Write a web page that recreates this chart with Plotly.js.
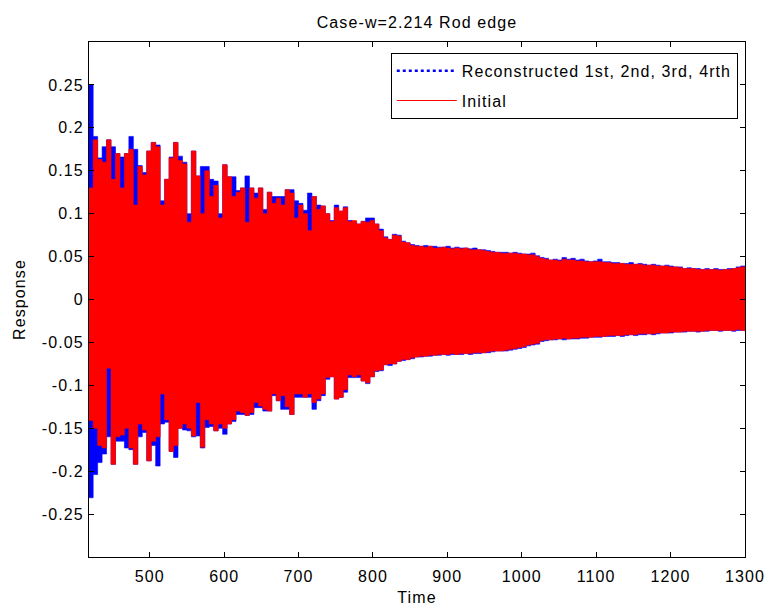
<!DOCTYPE html>
<html><head><meta charset="utf-8">
<script src="https://cdn.plot.ly/plotly-3.0.1.min.js"></script>
<style>html,body{margin:0;padding:0;background:#fff}#chart{width:767px;height:609px}
svg text{letter-spacing:1.1px}</style>
</head><body><div id="chart"></div>
<script>
// Sampling grid of the envelope readings (time units)
const timeStart = 418;
const timeStep = 6;

// "Initial" signal: upper peaks and lower troughs
const initialUpper = [
0.13,0.186,0.163,0.16,0.186,0.14,0.17,0.13,0.17,0.175,
0.11,0.155,0.145,0.173,0.183,0.178,0.11,0.14,0.165,0.183,
0.162,0.158,0.09,0.173,0.144,0.1,0.15,0.12,0.133,0.095,
0.157,0.143,0.12,0.125,0.13,0.09,0.13,0.118,0.13,0.1,
0.125,0.112,0.118,0.11,0.128,0.124,0.095,0.11,0.1,0.08,
0.12,
0.105,0.109,0.1,0.091,0.107,0.103,0.107,0.091,0.092,
0.088,0.091,0.09,0.092,0.088,0.08,0.072,0.07,0.075,0.074,
0.067,0.066,0.063,0.062,0.062,0.061,0.062,0.06,0.06,0.061,
0.06,0.059,0.06,0.059,0.06,0.058,0.058,0.058,0.057,0.056,
0.055,0.055,0.054,0.054,0.054,0.054,0.053,0.053,0.052,0.052,
0.05,0.048,0.047,0.046,0.046,0.045,0.047,0.046,0.046,0.045,
0.045,0.044,0.044,0.044,0.044,0.043,0.043,0.042,0.042,0.042,
0.041,0.041,0.041,0.041,0.04,0.04,0.04,0.039,0.039,0.039,
0.038,0.038,0.037,0.036,0.036,0.036,0.035,0.035,0.035,0.035,
0.035,0.034,0.035,0.035,0.036,0.037,0.038,0.038
];
const initialLower = [
-0.141,-0.15,-0.17,-0.173,-0.08,-0.192,-0.16,-0.158,-0.15,-0.173,
-0.192,-0.145,-0.152,-0.188,-0.165,-0.16,-0.11,-0.14,-0.177,-0.17,
-0.15,-0.145,-0.15,-0.159,-0.12,-0.172,-0.14,-0.145,-0.153,-0.145,
-0.15,-0.145,-0.14,-0.13,-0.132,-0.135,-0.132,-0.12,-0.124,-0.128,
-0.13,-0.11,-0.118,-0.112,-0.125,-0.134,-0.11,-0.11,-0.114,-0.11,
-0.12,
-0.116,-0.11,-0.091,-0.09,-0.116,-0.114,-0.105,-0.088,-0.09,
-0.088,-0.095,-0.097,-0.09,-0.083,-0.082,-0.076,-0.075,-0.075,-0.072,
-0.07,-0.07,-0.068,-0.067,-0.066,-0.066,-0.065,-0.065,-0.064,-0.064,
-0.064,-0.063,-0.064,-0.063,-0.063,-0.063,-0.062,-0.062,-0.062,-0.061,
-0.06,-0.06,-0.06,-0.059,-0.058,-0.057,-0.056,-0.055,-0.053,-0.052,
-0.051,-0.048,-0.047,-0.047,-0.046,-0.046,-0.045,-0.046,-0.045,-0.045,
-0.044,-0.044,-0.044,-0.043,-0.043,-0.043,-0.042,-0.042,-0.042,-0.042,
-0.041,-0.041,-0.041,-0.04,-0.04,-0.04,-0.04,-0.039,-0.039,-0.039,
-0.038,-0.038,-0.038,-0.037,-0.037,-0.037,-0.037,-0.037,-0.036,-0.036,
-0.036,-0.036,-0.036,-0.036,-0.036,-0.035,-0.036,-0.036
];

// "Reconstructed 1st, 2nd, 3rd, 4rth" signal: upper peaks and lower troughs
const reconUpper = [
0.25,0.19,0.165,0.178,0.186,0.178,0.17,0.166,0.17,0.19,
0.175,0.156,0.148,0.173,0.183,0.18,0.115,0.14,0.166,0.183,
0.167,0.16,0.10,0.173,0.144,0.155,0.155,0.14,0.138,0.10,
0.157,0.143,0.143,0.127,0.13,0.144,0.13,0.124,0.13,0.105,
0.125,0.12,0.12,0.12,0.128,0.128,0.115,0.112,0.104,0.124,
0.12,
0.11,0.109,0.1,0.092,0.11,0.103,0.108,0.092,0.09,
0.088,0.091,0.095,0.095,0.088,0.082,0.073,0.07,0.076,0.075,
0.068,0.066,0.064,0.063,0.062,0.063,0.062,0.062,0.061,0.061,
0.062,0.06,0.061,0.06,0.06,0.059,0.06,0.058,0.058,0.057,
0.056,0.055,0.055,0.055,0.054,0.055,0.054,0.053,0.053,0.054,
0.051,0.049,0.048,0.046,0.047,0.046,0.049,0.047,0.048,0.046,
0.047,0.045,0.044,0.045,0.047,0.044,0.044,0.043,0.043,0.042,
0.042,0.043,0.041,0.042,0.041,0.04,0.041,0.04,0.039,0.04,
0.039,0.038,0.038,0.036,0.037,0.036,0.036,0.035,0.036,0.035,
0.036,0.035,0.035,0.036,0.036,0.038,0.039,0.039
];
const reconLower = [
-0.231,-0.204,-0.19,-0.18,-0.16,-0.192,-0.165,-0.165,-0.173,-0.175,
-0.192,-0.16,-0.155,-0.188,-0.17,-0.194,-0.145,-0.143,-0.177,-0.184,
-0.15,-0.152,-0.153,-0.16,-0.159,-0.173,-0.149,-0.148,-0.153,-0.15,
-0.157,-0.145,-0.142,-0.134,-0.134,-0.135,-0.134,-0.126,-0.126,-0.13,
-0.13,-0.112,-0.118,-0.128,-0.128,-0.134,-0.114,-0.114,-0.114,-0.114,
-0.128,
-0.118,-0.112,-0.093,-0.09,-0.116,-0.114,-0.108,-0.091,-0.091,
-0.091,-0.095,-0.098,-0.09,-0.084,-0.083,-0.076,-0.077,-0.075,-0.072,
-0.071,-0.07,-0.069,-0.067,-0.067,-0.066,-0.066,-0.065,-0.065,-0.064,
-0.065,-0.064,-0.064,-0.064,-0.063,-0.064,-0.063,-0.063,-0.062,-0.062,
-0.061,-0.06,-0.06,-0.06,-0.059,-0.058,-0.057,-0.056,-0.054,-0.053,
-0.052,-0.049,-0.048,-0.047,-0.047,-0.046,-0.047,-0.046,-0.046,-0.046,
-0.045,-0.045,-0.044,-0.044,-0.044,-0.043,-0.043,-0.043,-0.042,-0.043,
-0.042,-0.041,-0.042,-0.041,-0.041,-0.04,-0.041,-0.04,-0.039,-0.039,
-0.039,-0.038,-0.038,-0.038,-0.037,-0.037,-0.038,-0.037,-0.037,-0.036,
-0.036,-0.037,-0.036,-0.036,-0.037,-0.036,-0.036,-0.037
];

const seriesNames = ['Reconstructed 1st, 2nd, 3rd, 4rth', 'Initial'];
const xTickVals = [500, 600, 700, 800, 900, 1000, 1100, 1200, 1300];
const xTickText = ['500', '600', '700', '800', '900', '1000', '1100', '1200', '1300'];
const yTickVals = [-0.25, -0.2, -0.15, -0.1, -0.05, 0, 0.05, 0.1, 0.15, 0.2, 0.25];
const yTickText = ['-0.25', '-0.2', '-0.15', '-0.1', '-0.05', '0', '0.05', '0.1', '0.15', '0.2', '0.25'];

const n = Math.min(initialUpper.length, initialLower.length, reconUpper.length, reconLower.length);
const time = [];
for (let i = 0; i < n; i++) time.push(timeStart + i * timeStep);

const BLUE = '#0000ff', RED = '#ff0000';
function band(up, lo, color) {
  return [
    {x: time, y: up.slice(0, n), type: 'scatter', mode: 'lines', line: {color: color, width: 0.6, shape: 'hv'}, showlegend: false, hoverinfo: 'skip'},
    {x: time, y: lo.slice(0, n), type: 'scatter', mode: 'lines', line: {color: color, width: 0.6, shape: 'hv'}, fill: 'tonexty', fillcolor: color, showlegend: false, hoverinfo: 'skip'}
  ];
}
const data = [
  ...band(reconUpper, reconLower, BLUE),
  ...band(initialUpper, initialLower, RED),
  {x: [null], y: [null], type: 'scatter', mode: 'lines', name: seriesNames[0], legendgroup: 'a', line: {color: BLUE, width: 2.5, dash: 'dot'}},
  {x: [null], y: [null], type: 'scatter', mode: 'lines', name: seriesNames[1], legendgroup: 'b', line: {color: RED, width: 1.2}}
];

const FONT = 'Liberation Sans, Arial, Helvetica, sans-serif';
const FS = 16;
const layout = {
  width: 767, height: 609,
  margin: {l: 89, r: 22, t: 42, b: 52, pad: 0},
  paper_bgcolor: '#ffffff', plot_bgcolor: '#ffffff',
  font: {family: FONT, size: FS, color: '#000'},
  title: {text: 'Case-w=2.214 Rod edge', font: {family: FONT, size: FS, color: '#000'},
          x: 0.5, xref: 'paper', xanchor: 'center', y: 1 - 22/609, yref: 'container', yanchor: 'middle'},
  xaxis: {range: [418.4, 1300], tickmode: 'array', tickvals: xTickVals, ticktext: xTickText,
          ticks: 'inside', ticklen: 5, tickwidth: 1, tickcolor: '#000', mirror: 'allticks',
          showline: true, linecolor: '#000', linewidth: 1, showgrid: false, zeroline: false,
          ticklabelstandoff: 5,
          title: {text: 'Time', font: {family: FONT, size: FS}, standoff: 7}},
  yaxis: {range: [-0.3, 0.3], tickmode: 'array', tickvals: yTickVals, ticktext: yTickText,
          ticks: 'inside', ticklen: 5, tickwidth: 1, tickcolor: '#000', mirror: 'allticks',
          showline: true, linecolor: '#000', linewidth: 1, showgrid: false, zeroline: false,
          ticklabelstandoff: 1,
          title: {text: 'Response', font: {family: FONT, size: FS}, standoff: 12}},
  legend: {x: 0.989, xanchor: 'right', y: 0.979, yanchor: 'top', bgcolor: '#ffffff',
           bordercolor: '#000', borderwidth: 1, font: {family: FONT, size: FS, color: '#000'},
           itemwidth: 60, traceorder: 'grouped', tracegroupgap: 6},
  showlegend: true
};
Plotly.newPlot('chart', data, layout, {staticPlot: true, displayModeBar: false});
</script></body></html>
